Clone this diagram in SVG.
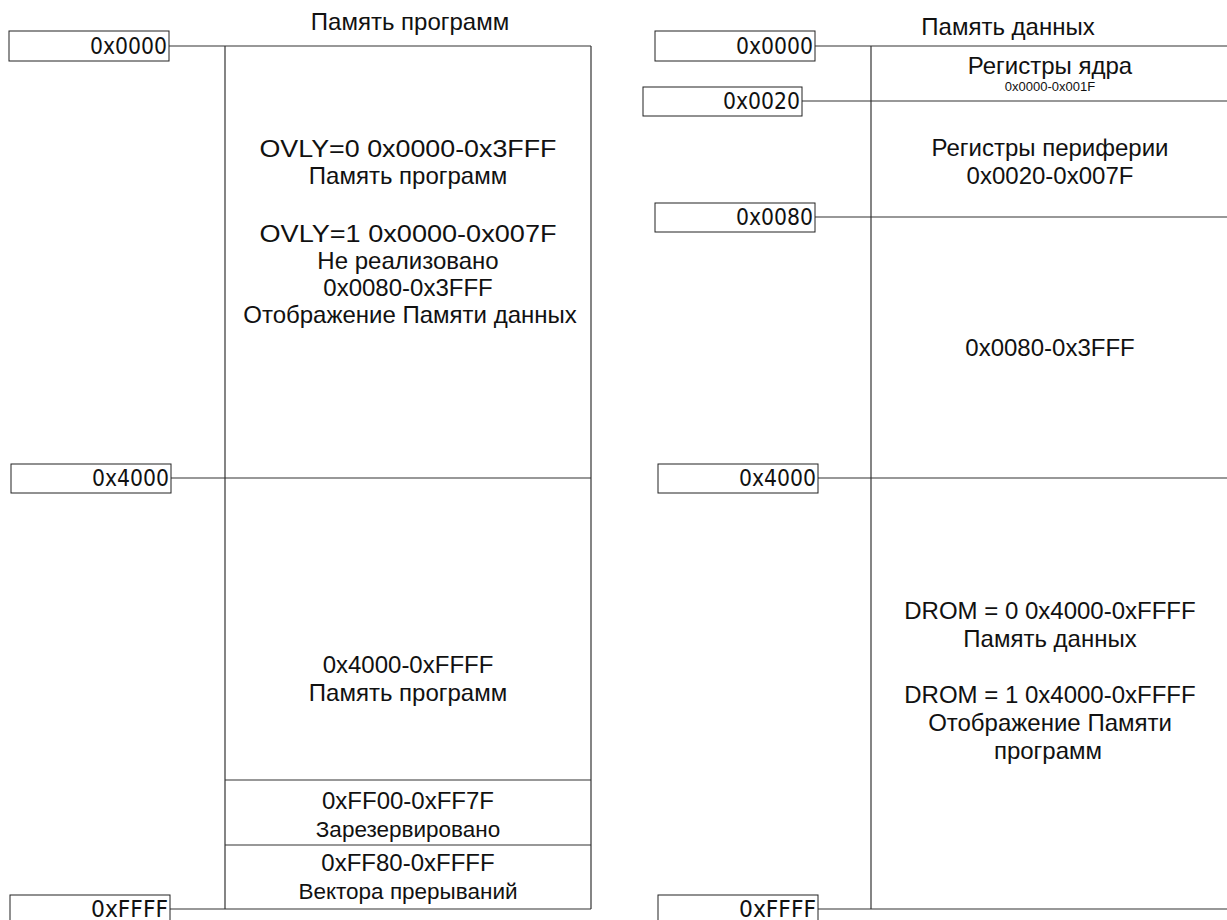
<svg xmlns="http://www.w3.org/2000/svg" width="1227" height="920" viewBox="0 0 1227 920">
<style>
.bg{fill:#ffffff}
.box{fill:#ffffff;stroke:#222;stroke-width:1}
.ln{stroke:#333;stroke-width:1.2;fill:none}
.addr{font-family:"DejaVu Sans Condensed","DejaVu Sans",sans-serif;font-size:23px;fill:#111;text-anchor:end}
.t{font-family:"Liberation Sans",Arial,sans-serif;font-size:24px;fill:#111;text-anchor:middle}
.tb{font-family:"Liberation Sans",Arial,sans-serif;font-size:22.5px;fill:#111;text-anchor:middle}
.s{font-family:"Liberation Sans",Arial,sans-serif;font-size:13px;fill:#111;text-anchor:middle}
</style>
<rect class="bg" x="0" y="0" width="1227" height="920"/>

<g id="connectors">
  <line class="ln" x1="169" y1="46" x2="591" y2="46"/>
  <line class="ln" x1="171" y1="478" x2="591" y2="478"/>
  <line class="ln" x1="225" y1="780" x2="591" y2="780"/>
  <line class="ln" x1="225" y1="845" x2="591" y2="845"/>
  <line class="ln" x1="170" y1="909" x2="591" y2="909"/>
  <line class="ln" x1="225" y1="46" x2="225" y2="909"/>
  <line class="ln" x1="591" y1="46" x2="591" y2="909"/>
  <line class="ln" x1="815" y1="46" x2="1227" y2="46"/>
  <line class="ln" x1="802" y1="101" x2="1227" y2="101"/>
  <line class="ln" x1="815" y1="217" x2="1227" y2="217"/>
  <line class="ln" x1="818" y1="478" x2="1227" y2="478"/>
  <line class="ln" x1="818" y1="909" x2="1227" y2="909"/>
  <line class="ln" x1="871" y1="46" x2="871" y2="909"/>
</g>

<g id="addr-l-0000"><rect class="box" x="9" y="31" width="160" height="30"/><text class="addr" x="167" y="53.5" textLength="77" lengthAdjust="spacingAndGlyphs">0x0000</text></g>
<g id="addr-l-4000"><rect class="box" x="11" y="464" width="160" height="29"/><text class="addr" x="169" y="486" textLength="77" lengthAdjust="spacingAndGlyphs">0x4000</text></g>
<g id="addr-l-FFFF"><rect class="box" x="10" y="895" width="160" height="30"/><text class="addr" x="168" y="917" textLength="77" lengthAdjust="spacingAndGlyphs">0xFFFF</text></g>

<g id="addr-r-0000"><rect class="box" x="655" y="31" width="160" height="30"/><text class="addr" x="813" y="53.5" textLength="77" lengthAdjust="spacingAndGlyphs">0x0000</text></g>
<g id="addr-r-0020"><rect class="box" x="643" y="87" width="159" height="29"/><text class="addr" x="800" y="109" textLength="77" lengthAdjust="spacingAndGlyphs">0x0020</text></g>
<g id="addr-r-0080"><rect class="box" x="655" y="203" width="160" height="29"/><text class="addr" x="813" y="225" textLength="77" lengthAdjust="spacingAndGlyphs">0x0080</text></g>
<g id="addr-r-4000"><rect class="box" x="658" y="464" width="160" height="29"/><text class="addr" x="816" y="486" textLength="77" lengthAdjust="spacingAndGlyphs">0x4000</text></g>
<g id="addr-r-FFFF"><rect class="box" x="658" y="895" width="160" height="30"/><text class="addr" x="816" y="917" textLength="77" lengthAdjust="spacingAndGlyphs">0xFFFF</text></g>

<g id="title-prog"><text class="t" x="410" y="30">Память программ</text></g>
<g id="title-data"><text class="t" x="1008" y="35">Память данных</text></g>

<g id="prog-low">
  <text class="t" x="408" y="157" textLength="297" lengthAdjust="spacingAndGlyphs">OVLY=0 0x0000-0x3FFF</text>
  <text class="t" x="408" y="184">Память программ</text>
  <text class="t" x="408" y="242" textLength="297" lengthAdjust="spacingAndGlyphs">OVLY=1 0x0000-0x007F</text>
  <text class="t" x="408" y="269">Не реализовано</text>
  <text class="t" x="408" y="296">0x0080-0x3FFF</text>
  <text class="t" x="410" y="323">Отображение Памяти данных</text>
</g>
<g id="prog-high">
  <text class="t" x="408" y="673">0x4000-0xFFFF</text>
  <text class="t" x="408" y="701">Память программ</text>
</g>
<g id="prog-reserved">
  <text class="t" x="408" y="809">0xFF00-0xFF7F</text>
  <text class="tb" x="408" y="837">Зарезервировано</text>
</g>
<g id="prog-vectors">
  <text class="t" x="408" y="871">0xFF80-0xFFFF</text>
  <text class="tb" x="408" y="899">Вектора прерываний</text>
</g>

<g id="data-core">
  <text class="t" x="1050" y="74">Регистры ядра</text>
  <text class="s" x="1050" y="91">0x0000-0x001F</text>
</g>
<g id="data-periph">
  <text class="t" x="1050" y="156">Регистры периферии</text>
  <text class="t" x="1050" y="184">0x0020-0x007F</text>
</g>
<g id="data-sram">
  <text class="t" x="1050" y="356">0x0080-0x3FFF</text>
</g>
<g id="data-high">
  <text class="t" x="1050" y="619">DROM = 0 0x4000-0xFFFF</text>
  <text class="t" x="1050" y="647">Память данных</text>
  <text class="t" x="1050" y="703">DROM = 1 0x4000-0xFFFF</text>
  <text class="t" x="1050" y="731">Отображение Памяти</text>
  <text class="t" x="1048" y="759">программ</text>
</g>
</svg>
